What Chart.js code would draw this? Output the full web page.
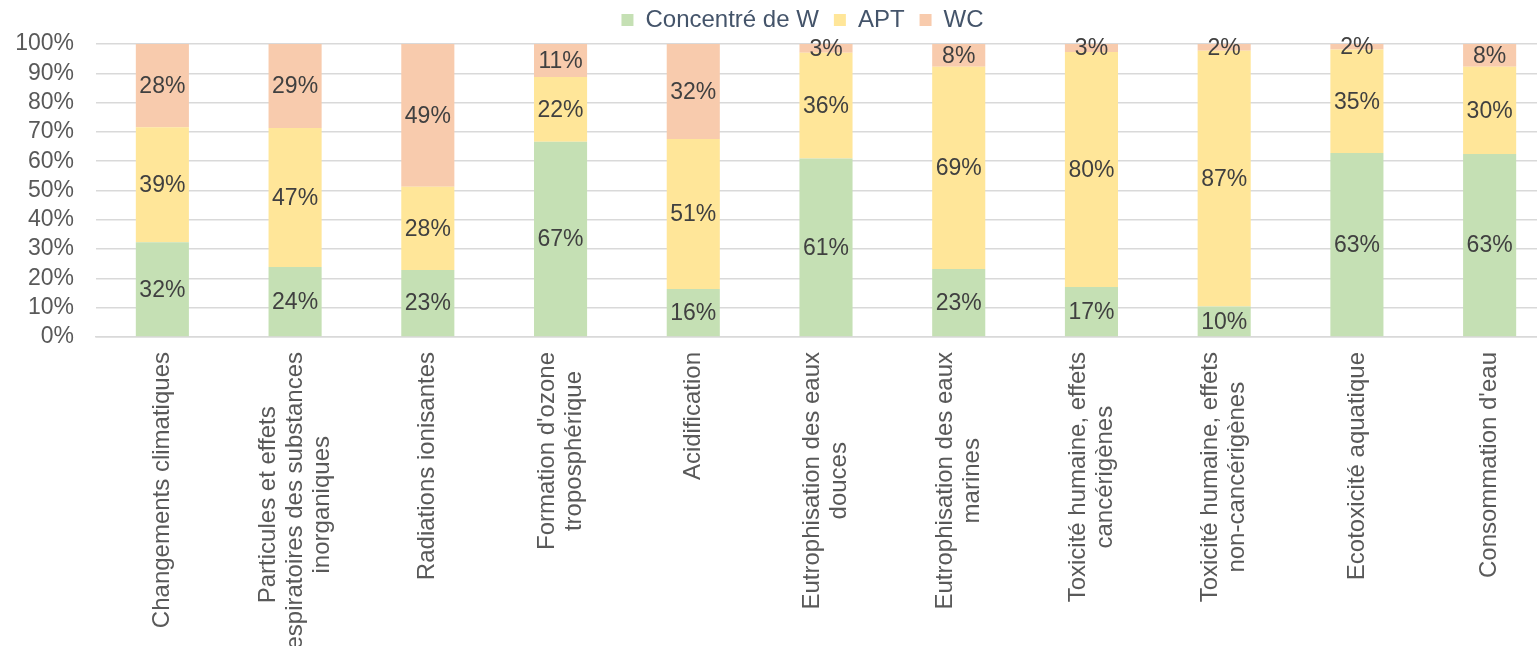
<!DOCTYPE html>
<html lang="fr">
<head>
  <meta charset="UTF-8">
  <title>Contribution par catégorie d'impact</title>
  <style>
    html, body { margin: 0; background: white; overflow: hidden; }
    /* the plot runs a little past the right edge of the window, as in the original */
    #wrap { width: 1556px; height: 646px; position: relative; }
  </style>
</head>
<body>
  <div id="wrap"><canvas id="chart"></canvas></div>

  <script src="https://cdn.jsdelivr.net/npm/chart.js"></script>
  <script>
    // Categories (one entry per bar, split in lines as in the original)
    const categories = [
      ["Changements climatiques"],
      ["Particules et effets", "respiratoires des substances", "inorganiques"],
      ["Radiations ionisantes"],
      ["Formation d'ozone", "troposphérique"],
      ["Acidification"],
      ["Eutrophisation des eaux", "douces"],
      ["Eutrophisation des eaux", "marines"],
      ["Toxicité humaine, effets", "cancérigènes"],
      ["Toxicité humaine, effets", "non-cancérigènes"],
      ["Ecotoxicité aquatique"],
      ["Consommation d'eau"]
    ];

    // Shares in %
    const concentreW = [32.3, 23.9, 22.9, 66.6, 16.4, 60.9, 23.2, 17.1, 10.4, 62.8, 62.5];
    const apt        = [39.3, 47.4, 28.4, 22.1, 51.2, 36.1, 69.0, 80.2, 87.3, 35.3, 29.7];
    const wc         = [28.4, 28.7, 48.7, 11.3, 32.4,  3.0,  7.8,  2.7,  2.3,  1.9,  7.8];

    const yTicks = [0, 10, 20, 30, 40, 50, 60, 70, 80, 90, 100];

    const FONT = '"Liberation Sans", Arial, sans-serif';

    // Percent labels centred in each segment
    const segmentLabels = {
      id: 'segmentLabels',
      afterDatasetsDraw(chart) {
        const ctx = chart.ctx;
        ctx.save();
        ctx.font = '23px ' + FONT;
        ctx.fillStyle = '#404040';
        ctx.textAlign = 'center';
        ctx.textBaseline = 'middle';
        chart.data.datasets.forEach((ds, d) => {
          chart.getDatasetMeta(d).data.forEach((bar, i) => {
            const y = (bar.y + bar.base) / 2;
            ctx.fillText(Math.round(ds.data[i]) + '%', bar.x, y + 1);
          });
        });
        ctx.restore();
      }
    };

    // Rotated category labels, lines centred on each other
    const categoryLabels = {
      id: 'categoryLabels',
      afterDraw(chart) {
        const x = chart.scales.x, ctx = chart.ctx;
        const lineH = 27;
        ctx.save();
        ctx.font = '24px ' + FONT;
        ctx.fillStyle = '#595959';
        ctx.textAlign = 'center';
        ctx.textBaseline = 'middle';
        categories.forEach((lines, i) => {
          const px = x.getPixelForValue(i);
          const w = Math.max(...lines.map(l => ctx.measureText(l).width));
          ctx.save();
          ctx.translate(px, x.top + 15);
          ctx.rotate(-Math.PI / 2);
          lines.forEach((l, k) => {
            ctx.fillText(l, -w / 2, (k - (lines.length - 1) / 2) * lineH);
          });
          ctx.restore();
        });
        ctx.restore();
      }
    };

    // legend: a bit more room below it, and centred over the plot like the original
    const legendTweak = {
      id: 'legendTweak',
      beforeLayout(chart) {
        const lg = chart.legend;
        if (!lg || lg._gapDone) return;
        const fit = lg.fit.bind(lg);
        lg.fit = function () { fit(); this.height += 2; };
        lg._gapDone = true;
      },
      afterLayout(chart) {
        if (chart.legend) chart.legend.left += 49;
      }
    };

    new Chart(document.getElementById('chart'), {
      type: 'bar',
      data: {
        labels: categories,
        datasets: [
          { label: 'Concentré de W', data: concentreW, backgroundColor: '#C5E0B4' },
          { label: 'APT', data: apt, backgroundColor: '#FFE699' },
          { label: 'WC', data: wc, backgroundColor: '#F8CBAD' }
        ]
      },
      options: {
        responsive: true,
        maintainAspectRatio: false,
        animation: false,
        categoryPercentage: 1,
        barPercentage: 0.4,
        layout: { padding: { top: -7, right: 0, left: 0, bottom: 0 } },
        plugins: {
          tooltip: { enabled: false },
          legend: {
            position: 'top',
            labels: {
              boxWidth: 12,
              boxHeight: 12,
              padding: 15,
              color: '#44546A',
              font: { family: FONT, size: 24 }
            }
          }
        },
        scales: {
          x: {
            stacked: true,
            grid: { display: false },
            border: { color: '#D9D9D9', width: 1.5 },
            ticks: { display: false },
            afterFit(scale) { scale.height = 309; }
          },
          y: {
            stacked: true,
            min: 0,
            max: 100,
            afterBuildTicks(scale) { scale.ticks = yTicks.map(v => ({ value: v })); },
            grid: { color: '#D9D9D9', lineWidth: 1.5, drawTicks: false },
            border: { display: false },
            ticks: {
              autoSkip: false,
              padding: 22,
              color: '#595959',
              font: { family: FONT, size: 23 },
              callback: v => v + '%'
            },
            afterFit(scale) { scale.width = 96; }
          }
        }
      },
      plugins: [segmentLabels, categoryLabels, legendTweak]
    });
  </script>
</body>
</html>
